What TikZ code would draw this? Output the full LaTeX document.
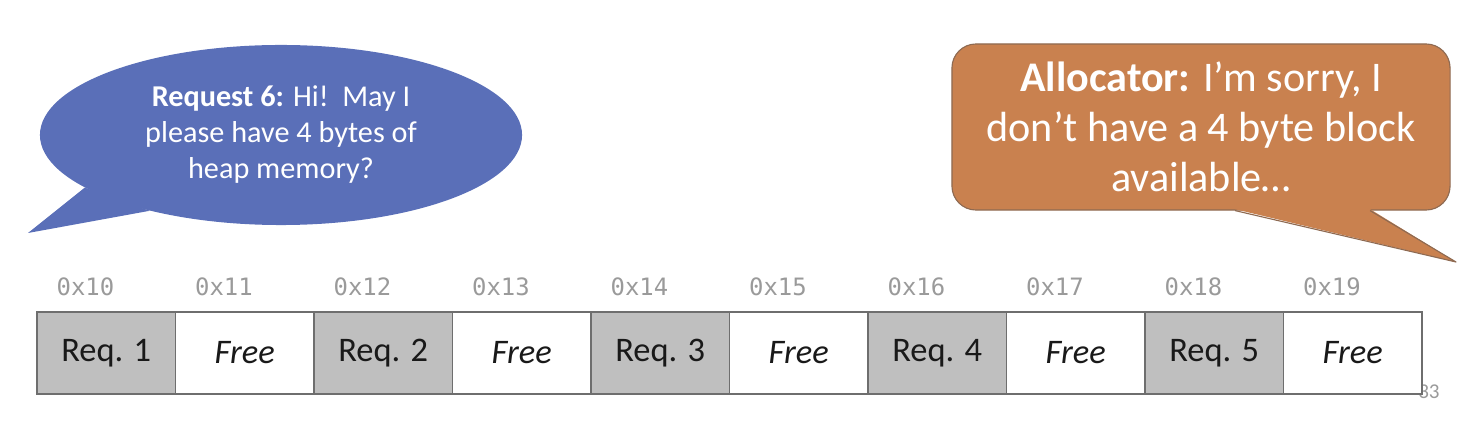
\documentclass[tikz,border=0pt]{standalone}
\usepackage{fontspec}
\setmainfont{Carlito}
\setmonofont{DejaVu Sans Mono}
\usetikzlibrary{shapes.geometric}
\definecolor{askblue}{HTML}{5A6FB8}
\definecolor{replyorange}{HTML}{C9814F}
\definecolor{replyline}{HTML}{8E6A52}
\definecolor{cellgray}{HTML}{BFBFBF}
\definecolor{cellline}{HTML}{6E6E6E}
\definecolor{addrgray}{HTML}{9A9A9A}
\tikzset{
  cell/.style={draw=cellline, line width=0.9pt, inner sep=0pt,
    minimum width=3.4625cm, minimum height=2.05cm, text=black!90,
    font=\fontsize{24.5}{24.5}\selectfont},
  usedcell/.style={fill=cellgray},
  freecell/.style={fill=white, font=\fontsize{24.5}{24.5}\selectfont\itshape},
  addr/.style={text=addrgray, inner sep=0pt, anchor=base west,
    font=\ttfamily\fontsize{17}{17}\selectfont},
  bubble/.style={text=white, align=center, inner sep=0pt}
}
\begin{document}
\begin{tikzpicture}[x=0.025cm,y=0.025cm]
\useasboundingbox (0,0) rectangle (1478,428);
\node[text=addrgray, font=\fontsize{15}{15}\selectfont, anchor=west, inner sep=0pt] (slideno) at (1418,36) {33};
\foreach \i/\lbl/\kind in {1/Req. 1/usedcell, 2/Free/freecell, 3/Req. 2/usedcell, 4/Free/freecell,
    5/Req. 3/usedcell, 6/Free/freecell, 7/Req. 4/usedcell, 8/Free/freecell, 9/Req. 5/usedcell, 10/Free/freecell}
{
  \pgfmathtruncatemacro\n{\i-1}
  \node[cell,\kind] (c\i) at ({106.25+138.5*(\i-1)},75) {\lbl};
  \node[addr] (a\i) at ([xshift=0.5cm,yshift=0.4cm]c\i.north west) {0x1\n};
}
% request bubble
\node[bubble, ellipse, fill=askblue, minimum width=12.05cm, minimum height=4.5cm,
  font=\fontsize{21.5}{25.6}\selectfont] (ask) at (281,293)
  {\textbf{Request 6:} Hi!\ \ May I\\please have 4 bytes of\\heap memory?};
\coordinate (asktip) at (28,195);
\fill[askblue] (ask.195) -- (asktip) -- (ask.210) -- cycle;
% allocator bubble
\node[bubble, draw=replyline, line width=0.8pt, fill=replyorange, rounded corners=0.6cm,
  minimum width=12.45cm, minimum height=4.15cm,
  font=\fontsize{30}{35.5}\selectfont] (reply) at (1201,301)
  {\textbf{Allocator:} I’m sorry, I\\don’t have a 4 byte block\\available…};
\coordinate (replytip) at (1456,166);
\coordinate (r1) at ([xshift=0.85cm]reply.south);
\coordinate (r2) at ([xshift=4.225cm]reply.south);
\fill[replyorange] ([yshift=1pt]r1) -- (replytip) -- ([yshift=1pt]r2) -- cycle;
\draw[replyline, line width=0.8pt, line join=round] (r1) -- (replytip) -- (r2);
\end{tikzpicture}
\end{document}
